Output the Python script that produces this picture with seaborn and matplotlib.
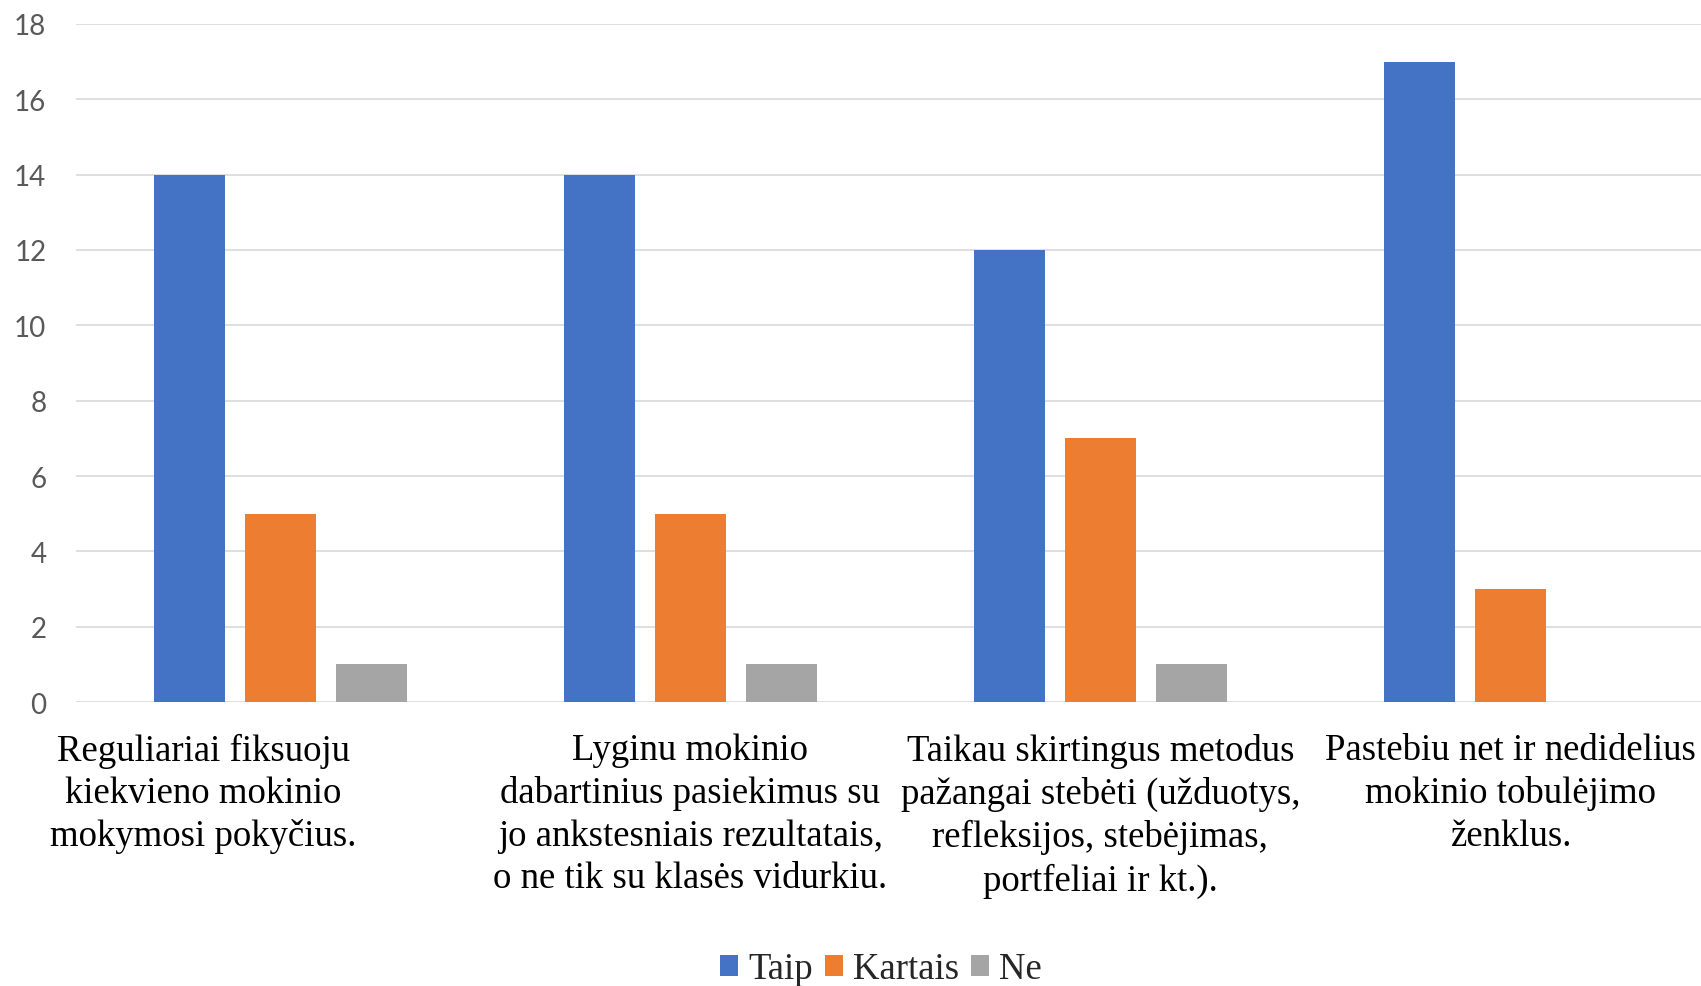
import matplotlib
matplotlib.use("Agg")
import matplotlib.pyplot as plt
import matplotlib.transforms as mtransforms
import pandas as pd
import seaborn as sns

sns.set_theme(style="white")
plt.rcParams["font.family"] = "serif"
plt.rcParams["font.serif"] = ["Liberation Serif", "DejaVu Serif"]

categories = [
    "Reguliariai fiksuoju\nkiekvieno mokinio\nmokymosi pokyčius.",
    "Lyginu mokinio\ndabartinius pasiekimus su\njo ankstesniais rezultatais,\no ne tik su klasės vidurkiu.",
    "Taikau skirtingus metodus\npažangai stebėti (užduotys,\nrefleksijos, stebėjimas,\nportfeliai ir kt.).",
    "Pastebiu net ir nedidelius\nmokinio tobulėjimo\nženklus.",
]
taip = [14, 14, 12, 17]
kartais = [5, 5, 7, 3]
ne = [1, 1, 1, 0]
series = ["Taip", "Kartais", "Ne"]
colors = ["#4472C4", "#ED7D31", "#A5A5A5"]
yticks = [0, 2, 4, 6, 8, 10, 12, 14, 16, 18]

df = pd.DataFrame({
    "cat": categories * 3,
    "answer": [s for s in series for _ in categories],
    "value": taip + kartais + ne,
})

fig = plt.figure(figsize=(17.01, 9.87), dpi=100)
ax = fig.add_axes([0.0444, 0.2877, 0.964, 0.687])

sns.barplot(data=df, x="cat", y="value", hue="answer", hue_order=series,
            palette=colors, width=0.666, gap=0.22, linewidth=0,
            saturation=1, ax=ax, legend=True)

ax.set_xlim(-0.5, 3.5)
ax.set_ylim(0, 18)
ax.set_yticks(yticks)
ax.set_yticklabels([str(v) for v in yticks], fontfamily="Lato", fontsize=20,
                   color="#595959")
ax.set_xticks(range(len(categories)))
ax.set_xticklabels(categories, fontfamily="Liberation Serif", fontsize=26.5,
                   color="black", linespacing=1.3)
ax.set_xlabel("")
ax.set_ylabel("")
for s in ax.spines.values():
    s.set_visible(False)
ax.yaxis.grid(True, color="#D9D9D9", linewidth=1.2)
ax.set_axisbelow(True)
ax.tick_params(axis="y", length=0, pad=21)
ax.tick_params(axis="x", length=0, pad=22)
# Excel pushes the first wrapped label a bit to the left
first = ax.get_xticklabels()[0]
first.set_transform(first.get_transform() +
                    mtransforms.ScaledTranslation(-0.77, 0, fig.dpi_scale_trans))

ax.legend_.remove()
handles, labels = ax.get_legend_handles_labels()
leg = fig.legend(handles, labels, loc="center", bbox_to_anchor=(0.518, 0.017),
                 ncol=3, frameon=False, prop={"family": "serif", "size": 26.5},
                 handlelength=0.5, handleheight=0.5, handletextpad=0.27,
                 columnspacing=0.32, borderaxespad=0)
for t in leg.get_texts():
    t.set_fontfamily("Liberation Serif")
    t.set_fontsize(26.5)

fig.savefig("out.png", dpi=100)
